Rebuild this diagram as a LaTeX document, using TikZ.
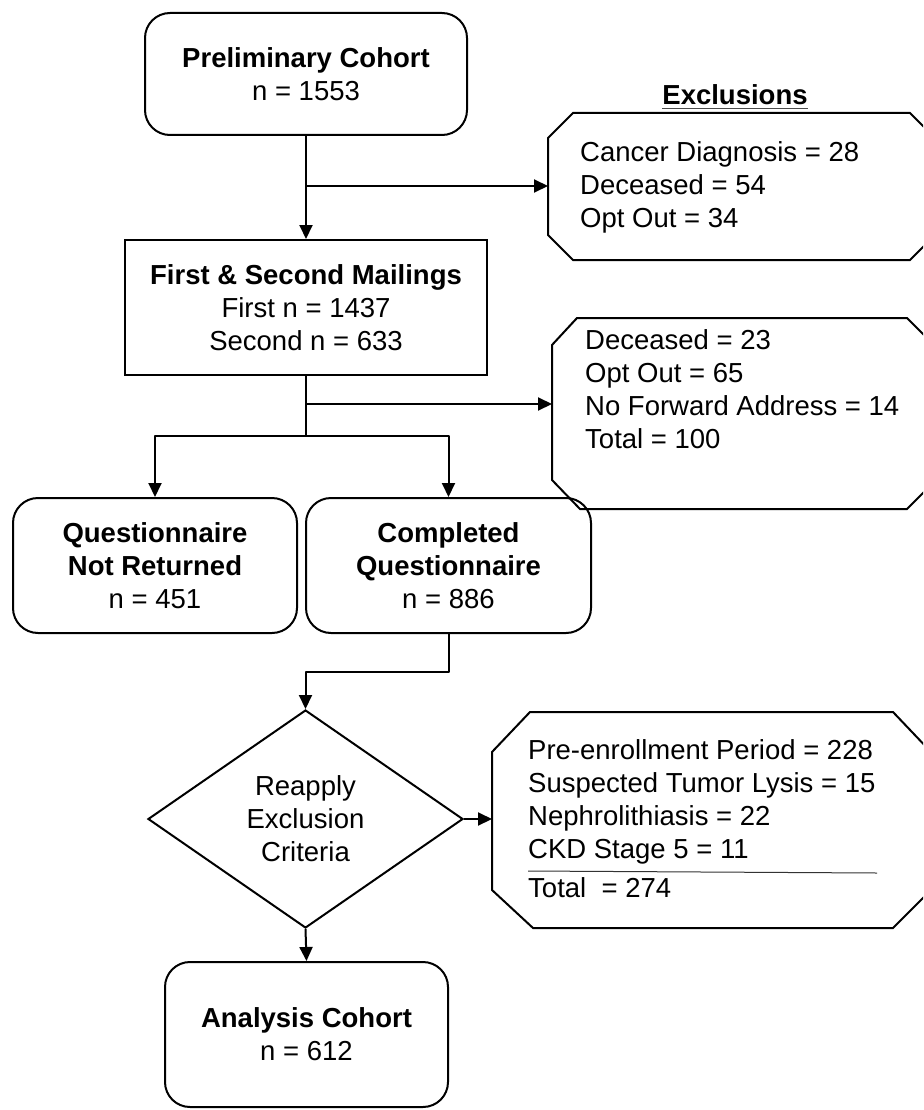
\documentclass[tikz,border=0pt]{standalone}
\usepackage{fontspec}
\setmainfont{Liberation Sans}
\usetikzlibrary{arrows.meta,shapes.geometric}
\begin{document}
\begin{tikzpicture}[x=1pt,y=-1pt,
  every node/.style={font=\fontsize{27.5}{33}\selectfont, inner sep=0pt},
  line/.style={line width=2pt, line join=round},
  arr/.style={line, -{Triangle[length=14pt,width=13pt]}},
  rbox/.style={draw, line width=2pt, rounded corners=25pt, align=center},
  sbox/.style={draw, line width=2pt, align=center},
  octo/.style={draw, line width=2pt, line join=miter},
  lst/.style={align=left, anchor=west}]
\path[use as bounding box, clip] (0,0) rectangle (923,1110);
\fill[white] (0,0) rectangle (923,1110);

% main boxes
\node[rbox, minimum width=322pt, minimum height=122pt] (prelim) at (306,74)
  {\textbf{Preliminary Cohort}\\n = 1553};
\node[sbox, minimum width=362pt, minimum height=135pt] (mail) at (306,307.5)
  {\textbf{First \& Second Mailings}\\First n = 1437\\Second n = 633};
\node[rbox, minimum width=284pt, minimum height=135pt] (notret) at (155,565.5)
  {\textbf{Questionnaire}\\\textbf{Not Returned}\\n = 451};
\node[rbox, minimum width=285pt, minimum height=135pt] (compl) at (448.5,565.5)
  {\textbf{Completed}\\\textbf{Questionnaire}\\n = 886};
\node[diamond, draw, line width=2pt, align=center, shape aspect=1.445,
  minimum width=315pt, minimum height=218pt] (dia) at (305.5,819)
  {Reapply\\Exclusion\\Criteria};
\node[rbox, minimum width=283pt, minimum height=145pt] (ana) at (306.5,1034.5)
  {\textbf{Analysis Cohort}\\n = 612};

% exclusions heading
\node[anchor=base] (exc) at (735,105) {\textbf{Exclusions}};
\draw[line width=1.5pt, black!70] ([yshift=-3.5pt]exc.base west) -- ([yshift=-3.5pt]exc.base east);

% octagon boxes
\draw[octo] (548,138) -- (573,113) -- (910,113) -- (935,138) -- (935,235)
  -- (910,260) -- (573,260) -- (548,235) -- cycle;
\coordinate (ex1w) at (548,186);
\node[lst] (ex1t) at (580,187) {Cancer Diagnosis = 28\\Deceased = 54\\Opt Out = 34};

\draw[octo] (552,345) -- (577,318) -- (907,318) -- (934,345) -- (934,482)
  -- (907,509) -- (580,509) -- (552,480) -- cycle;
\coordinate (ex2w) at (552,404);
\node[lst] (ex2t) at (585,389) {Deceased = 23\\Opt Out = 65\\No Forward Address = 14\\Total = 100};

\draw[octo] (492,752) -- (530,712) -- (893,712) -- (931,752) -- (931,890)
  -- (893,928) -- (533,928) -- (492,890) -- cycle;
\coordinate (ex3w) at (492,819);
\node[lst] (ex3t) at (528,801.5) {Pre-enrollment Period = 228\\Suspected Tumor Lysis = 15\\Nephrolithiasis = 22\\CKD Stage 5 = 11};
\node[lst] (ex3tot) at (528,888) {Total~ = 274};
\draw[line width=1pt, black!80] (528,871) -- (877,873);

% connectors
\draw[arr] (prelim.south) -- (mail.north);
\draw[arr] (prelim.south |- ex1w) -- (ex1w);
\coordinate (split) at (306,436);
\draw[line] (mail.south) -- (split);
\draw[arr] (mail.south |- ex2w) -- (ex2w);
\draw[arr] (split) -| (notret.north);
\draw[arr] (split) -| (compl.north);
\coordinate (turn) at (448.5,672);
\draw[arr] (compl.south) -- (turn) -| (dia.north);
\draw[arr] (dia.east) -- (ex3w);
\draw[arr] (dia.south) -- (ana.north);
\end{tikzpicture}
\end{document}
